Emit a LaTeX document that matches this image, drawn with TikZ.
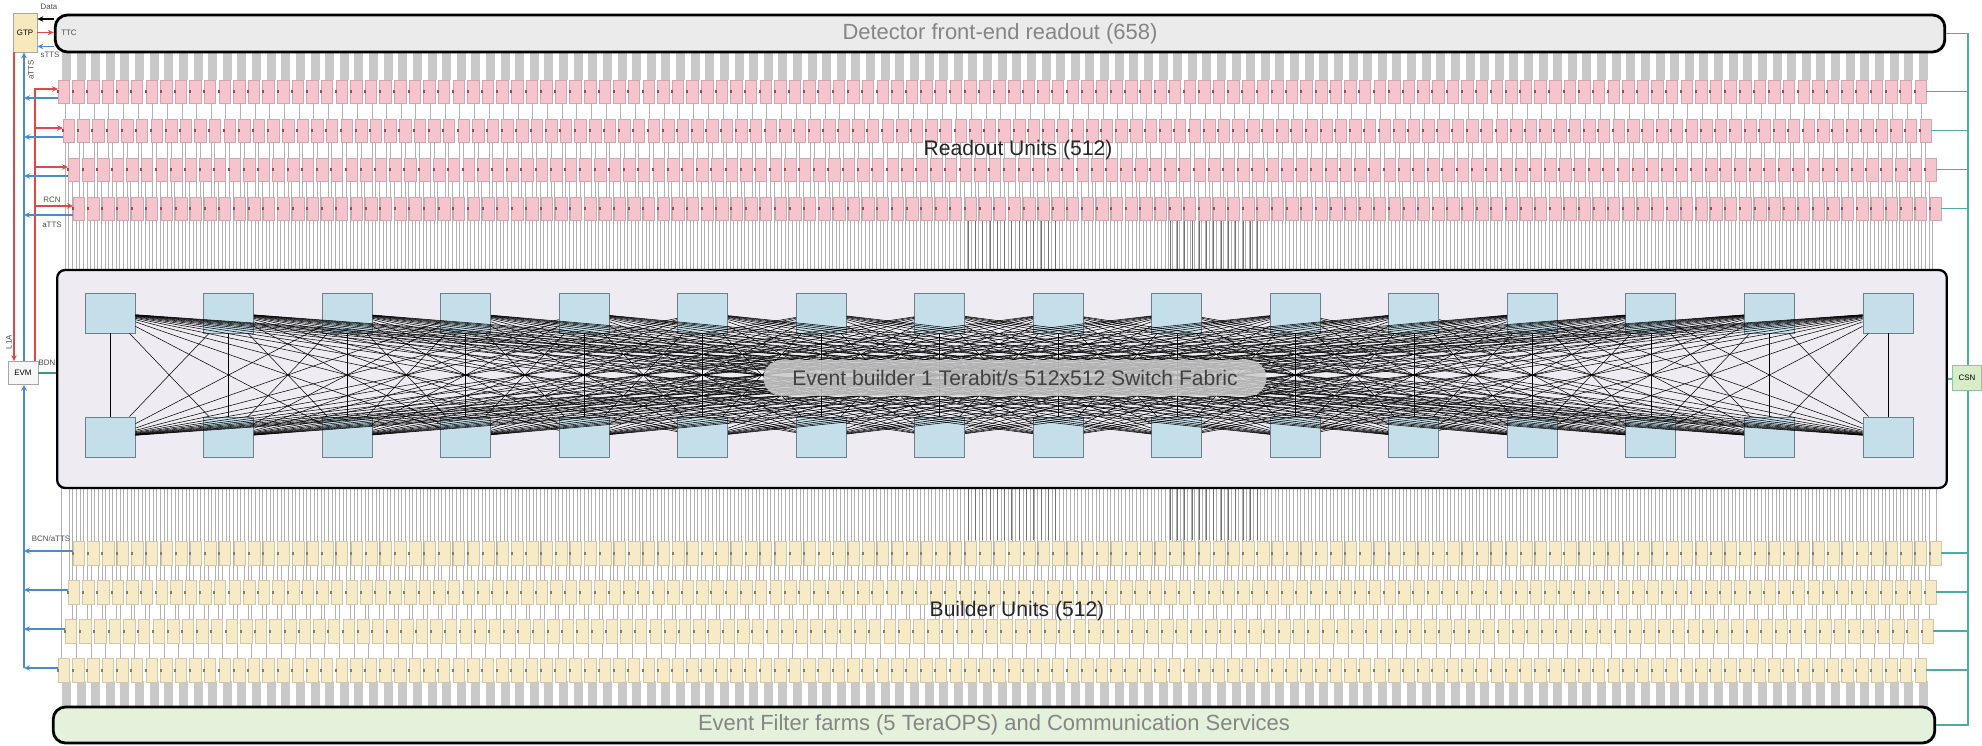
\documentclass[tikz,border=0pt]{standalone}
\usepackage{fontspec}
\setmainfont{Liberation Sans}
\usepackage{tikz}
\usetikzlibrary{arrows.meta,calc}
\definecolor{cgrisbarra}{HTML}{EBEBEB}
\definecolor{cverdebarra}{HTML}{E4F1DB}
\definecolor{ctexto}{HTML}{858585}
\definecolor{cfab}{HTML}{EEECF2}
\definecolor{ccelest}{HTML}{C4DEEA}
\definecolor{cborde}{HTML}{6D7F88}
\definecolor{crosa}{HTML}{F5C4CD}
\definecolor{cpuntor}{HTML}{A04858}
\definecolor{camar}{HTML}{F7EAC6}
\definecolor{cpuntoa}{HTML}{8C7D58}
\definecolor{crojo}{HTML}{E04848}
\definecolor{cazul}{HTML}{4A8CC9}
\definecolor{cteal}{HTML}{4FAAA0}
\definecolor{cverde}{HTML}{3E9B78}
\definecolor{ccsn}{HTML}{D6EDC6}
\definecolor{cgtp}{HTML}{F8E8BE}
\newcommand{\chico}{\fontsize{4.5}{5}\selectfont}
\tikzset{
  barra/.style={rectangle, rounded corners=7pt, draw=black, line width=1.6pt,
    font=\fontsize{12.5}{14}\selectfont, text=ctexto},
  fabrica/.style={rectangle, rounded corners=4.5pt, draw=black, line width=1.3pt,
    fill=cfab, minimum width=37.8cm, minimum height=4.36cm},
  cuadro/.style={rectangle, draw=cborde, line width=0.5pt, fill=ccelest,
    minimum width=1cm, minimum height=0.8cm},
  malla/.style={draw=black, line width=0.3pt},
  pastilla/.style={rectangle, rounded corners=0.36cm, fill=gray!40, fill opacity=0.85,
    text opacity=1, text=black!75, minimum width=10.06cm, minimum height=0.72cm,
    font=\fontsize{12}{14}\selectfont},
  rotulo/.style={font=\fontsize{12}{14}\selectfont, text=black!85},
  cajita/.style={rectangle, draw=gray!70, line width=0.4pt, font=\chico, inner sep=0pt},
  etq/.style={font=\chico, text=black!70, inner sep=0pt},
  hilo/.style={draw=gray!60, line width=0.45pt},
  hiloosc/.style={draw=black!55, line width=0.45pt},
  talon/.style={fill=gray!42},
  cru/.style={fill=crosa, draw=crosa!85!black, line width=0.25pt},
  cbu/.style={fill=camar, draw=camar!85!black, line width=0.25pt},
  froja/.style={-{Stealth[length=1.2mm,width=1.1mm]}, draw=crojo, line width=0.8pt},
  fazul/.style={-{Stealth[length=1.2mm,width=1.1mm]}, draw=cazul, line width=0.8pt},
  fnegra/.style={-{Stealth[length=1.2mm,width=1.1mm]}, draw=black, line width=0.8pt},
  lteal/.style={draw=cteal, line width=0.8pt},
  lverde/.style={draw=cverde, line width=1.3pt},
}

\begin{document}
\begin{tikzpicture}[x=0.02cm, y=-0.02cm]
  \useasboundingbox (0,0) rectangle (1982,746);
  % hilos hacia la matriz de conmutacion
  \foreach \fila/\izq/\arr/\off in {1/58/80/7, 2/63/119/5.65, 3/68/158/4.3, 4/73/197/2.95} {
    \foreach \k in {0,...,127}
      \draw[hilo] ({\izq+\k*14.62+\off},\arr+5) -- ({\izq+\k*14.62+\off},270);
    \coordinate (rur\fila) at (\izq,\arr+9);
    \coordinate (rua\fila) at (\izq,\arr+18);
    \coordinate (rud\fila) at (\izq+1868,\arr+11.5);
  }
  \foreach \fila/\izq/\arr/\off in {1/73/541/7, 2/68/580/1.03, 3/65/619/7.68, 4/58/658/3.71} {
    \foreach \k in {0,...,127}
      \draw[hilo] ({\izq+\k*14.62+\off},488) -- ({\izq+\k*14.62+\off},\arr+5);
    \coordinate (bua\fila) at (\izq,\arr+10);
    \coordinate (bud\fila) at (\izq+1868,\arr+12);
  }
  \foreach \x in {968,975.3,...,1056} {
    \draw[hiloosc] (\x,221) -- (\x,270);
    \draw[hiloosc] (\x,488) -- (\x,540);
  }
  \foreach \x in {1170,1177.3,...,1264} {
    \draw[hiloosc] (\x,221) -- (\x,270);
    \draw[hiloosc] (\x,488) -- (\x,540);
  }
  % talones de entrada y salida
  \foreach \k in {0,...,127} {
    \fill[talon] ({62+\k*14.62},52) rectangle ++(9,28);
    \fill[talon] ({62+\k*14.62},681) rectangle ++(9,26);
  }
  % Readout Units
  \foreach \izq/\arr in {58/80, 63/119, 68/158, 73/197}
    \foreach \k in {0,...,127} {
      \filldraw[cru] ({\izq+\k*14.62},\arr) rectangle ++(11.5,23);
      \fill[cpuntor] ({\izq+\k*14.62-0.8},\arr+10.5) rectangle ++(2,2.5);
    }
  % Builder Units
  \foreach \izq/\arr in {73/541, 68/580, 65/619, 58/658}
    \foreach \k in {0,...,127} {
      \filldraw[cbu] ({\izq+\k*14.62},\arr) rectangle ++(11.5,24);
      \fill[cpuntoa] ({\izq+\k*14.62-0.8},\arr+11) rectangle ++(2,2.5);
    }
  \node[barra, fill=cgrisbarra, minimum width=37.8cm, minimum height=0.74cm] (frontend) at (1000,33.5) {Detector front-end readout (658)};
  \node[barra, fill=cverdebarra, minimum width=37.64cm, minimum height=0.72cm] (filtro) at (994,725) {Event Filter farms (5 TeraOPS) and Communication Services};
  \node[rotulo] (ru) at (1018,150) {Readout Units (512)};
  \node[rotulo] (bu) at (1017,611) {Builder Units (512)};
  % matriz 512x512
  \node[fabrica] (sw) at (1002,379) {};
  \foreach \i in {1,...,16} {
    \node[cuadro] (t\i) at ({110+(\i-1)*118.53},313) {};
    \node[cuadro] (b\i) at ({110+(\i-1)*118.53},437) {};
  }
  \foreach \i in {1,...,16}
    \foreach \j in {1,...,16}
      \draw[malla] (t\i) -- (b\j);
  \node[pastilla] (etqsw) at (1015,378) {Event builder 1 Terabit/s 512x512 Switch Fabric};
  % control a la izquierda
  \node[cajita, fill=cgtp, minimum width=0.48cm, minimum height=0.78cm] (gtp) at (25,32.5) {GTP};
  \node[cajita, fill=gray!6, minimum width=0.6cm, minimum height=0.46cm] (evm) at (23,373) {EVM};
  \coordinate (ejerojoizq) at (14,0);
  \coordinate (ejeazul) at (24,0);
  \coordinate (ejerojo) at (35,0);
  \coordinate (dat) at ([yshift=0.27cm]gtp.east);
  \coordinate (stts) at ([yshift=-0.28cm]gtp.east);
  \draw[fnegra] (dat -| frontend.west) -- (dat);
  \draw[froja] (gtp.east) -- (gtp.east -| frontend.west);
  \draw[fazul] (stts -| frontend.west) -- (stts);
  \draw[froja] (gtp.south -| ejerojoizq) -- (evm.north -| ejerojoizq);
  \draw[fazul] (evm.north -| ejeazul) -- (gtp.south -| ejeazul);
  \draw[froja] (evm.north -| ejerojo) |- (rur1);
  \foreach \fila in {2,3,4}
    \draw[froja] (rur\fila -| ejerojo) -- (rur\fila);
  \foreach \fila in {1,...,4}
    \draw[fazul] (rua\fila) -- (rua\fila -| ejeazul);
  \draw[fazul] (bua4 -| ejeazul) -- (evm.south -| ejeazul);
  \foreach \fila in {1,...,4}
    \draw[fazul] (bua\fila) -- (bua\fila -| ejeazul);
  \draw[lverde] (evm.east) -- (evm.east -| sw.west);
  \node[etq] (etqdata) at (49,7) {Data};
  \node[etq] (etqttc) at (69,33) {TTC};
  \node[etq] (etqstts) at (50,55) {sTTS};
  \node[etq, rotate=90] (etqatts) at (31,70) {aTTS};
  \node[etq] (etqrcn) at (52,200) {RCN};
  \node[etq] (etqatts2) at (52,225) {aTTS};
  \node[etq, rotate=90] (etql1a) at (9,342) {L1A};
  \node[etq] (etqbdn) at (47,363) {BDN};
  \node[etq] (etqbcn) at (51,539) {BCN/aTTS};
  % servicios a la derecha
  \coordinate (ejeteal) at (1968,0);
  \draw[lteal] (frontend.east) -| (ejeteal |- filtro.east) -- (filtro.east);
  \foreach \fila in {1,...,4} {
    \draw[lteal] (rud\fila) -- (rud\fila -| ejeteal);
    \draw[lteal] (bud\fila) -- (bud\fila -| ejeteal);
  }
  \draw[lteal] (sw.east) -- (sw.east -| ejeteal);
  \node[cajita, fill=ccsn, draw=cverde!60, minimum width=0.58cm, minimum height=0.5cm] (csn) at (1967,377.5) {CSN};
\end{tikzpicture}
\end{document}
